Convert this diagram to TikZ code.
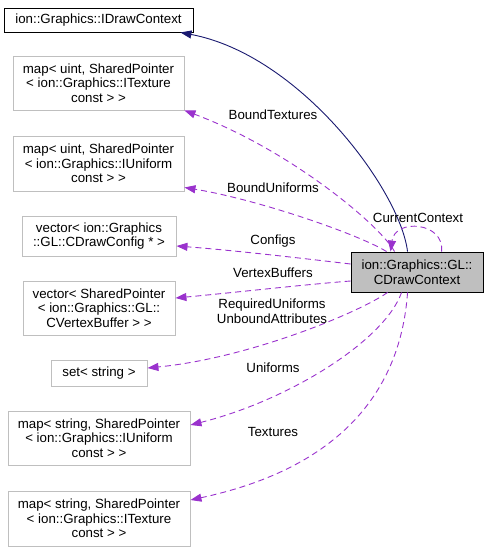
\documentclass[tikz,border=0pt]{standalone}
\usepackage{fontspec}
\setmainfont{Liberation Sans}
\usetikzlibrary{arrows.meta,calc}
\definecolor{edgepurple}{HTML}{9A32CD}
\definecolor{navyedge}{HTML}{191970}
\definecolor{boxgray}{HTML}{BFBFBF}
\begin{document}
\begin{tikzpicture}[x=1pt,y=-1pt,
  every node/.style={font=\fontsize{13.3}{14.5}\selectfont, inner sep=0pt, align=center},
  cls/.style={draw=boxgray, fill=white, line width=0.9pt},
  basecls/.style={draw=black, fill=white, line width=0.9pt},
  maincls/.style={draw=black, fill=boxgray, line width=0.9pt},
  dep/.style={draw=edgepurple, dash pattern=on 6pt off 4pt, line width=0.9pt,
    -{Triangle[length=11pt,width=8pt,fill=edgepurple]}},
  inh/.style={draw=navyedge, line width=0.9pt,
    -{Triangle[length=11pt,width=8pt,fill=navyedge]}},
  lbl/.style={fill=none}]
\useasboundingbox (0,0) rectangle (488,552);

% nodes
\node[basecls, minimum width=189pt, minimum height=24pt] (idc) at (98.5,20) {ion::Graphics::IDrawContext};
\node[cls, minimum width=171pt, minimum height=54pt] (bt) at (98.5,83) {map< uint, SharedPointer\\< ion::Graphics::ITexture\\const > >};
\node[cls, minimum width=171pt, minimum height=55pt] (bu) at (98.5,163.5) {map< uint, SharedPointer\\< ion::Graphics::IUniform\\const > >};
\node[cls, minimum width=154pt, minimum height=40pt] (cfg) at (99,236) {vector< ion::Graphics\\::GL::CDrawConfig * >};
\node[cls, minimum width=152pt, minimum height=54pt] (vb) at (99,308) {vector< SharedPointer\\< ion::Graphics::GL::\\CVertexBuffer > >};
\node[cls, minimum width=96pt, minimum height=26pt] (set) at (99,373) {set< string >};
\node[cls, minimum width=182pt, minimum height=54pt] (su) at (99,438) {map< string, SharedPointer\\< ion::Graphics::IUniform\\const > >};
\node[cls, minimum width=182pt, minimum height=55pt] (st) at (99,518.5) {map< string, SharedPointer\\< ion::Graphics::ITexture\\const > >};
\node[maincls, minimum width=132pt, minimum height=40pt] (cdc) at (417,272) {ion::Graphics::GL::\\CDrawContext};

% edges
\draw[inh] ($(cdc.north west)+(57,0)$) .. controls (400,190) and (300,55) .. ($(idc.south east)+(-13,0)$);
\draw[dep] ($(cdc.north west)+(44,0)$) .. controls (380,225) and (290,150) .. (bt.south east);
\draw[dep] ($(cdc.north west)+(36,0)$) .. controls (360,235) and (260,200) .. ($(bu.south east)+(0,-4)$);
\draw[dep] ($(cdc.west)+(0,-8)$) .. controls (300,258) and (230,250) .. ($(cfg.east)+(0,10)$);
\draw[dep] ($(cdc.west)+(0,9)$) .. controls (300,285) and (230,293) .. ($(vb.east)+(0,-10)$);
\draw[dep] ($(cdc.south west)+(37,0)$) .. controls (360,312) and (250,358) .. ($(set.east)+(0,-5)$);
\draw[dep] ($(cdc.south west)+(51,0)$) .. controls (385,340) and (290,400) .. ($(su.east)+(0,-13)$);
\draw[dep] ($(cdc.south west)+(57,0)$) .. controls (400,400) and (330,470) .. ($(st.east)+(0,-18.5)$);
\draw[dep] ($(cdc.north west)+(91,0)$) .. controls (445,222) and (395,218) .. ($(cdc.north west)+(40,0)$);

% labels
\node[lbl] (lbt) at (273,115) {BoundTextures};
\node[lbl] (lbu) at (273,188) {BoundUniforms};
\node[lbl] (lcfg) at (273,241) {Configs};
\node[lbl] (lvb) at (273,273) {VertexBuffers};
\node[lbl] (lset) at (272,311) {RequiredUniforms\\UnboundAttributes};
\node[lbl] (lsu) at (273,368) {Uniforms};
\node[lbl] (lst) at (273,432) {Textures};
\node[lbl] (lcc) at (418,218) {CurrentContext};
\end{tikzpicture}
\end{document}
